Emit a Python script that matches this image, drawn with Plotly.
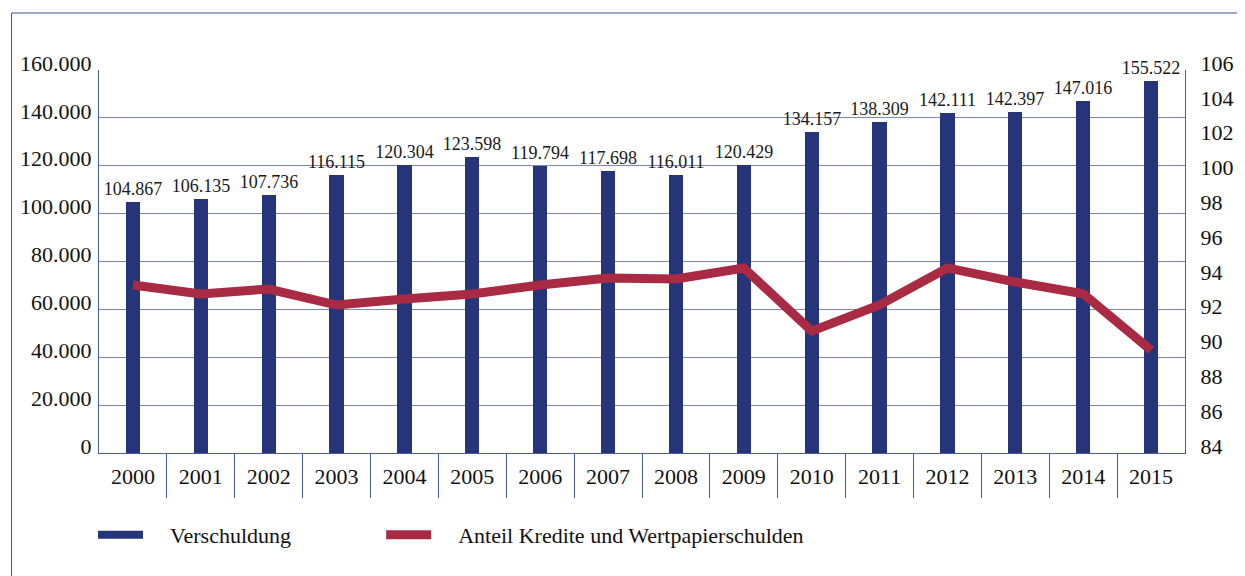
import plotly.graph_objects as go

years = ["2000", "2001", "2002", "2003", "2004", "2005", "2006", "2007",
         "2008", "2009", "2010", "2011", "2012", "2013", "2014", "2015"]
verschuldung = [104867, 106135, 107736, 116115, 120304, 123598, 119794, 117698,
                116011, 120429, 134157, 138309, 142111, 142397, 147016, 155522]
anteil = [93.65, 93.13, 93.42, 92.50, 92.85, 93.13, 93.65, 94.05,
          94.00, 94.63, 91.00, 92.50, 94.63, 93.82, 93.15, 89.90]

left_ticks = [0, 20000, 40000, 60000, 80000, 100000, 120000, 140000, 160000]
right_ticks = [84, 86, 88, 90, 92, 94, 96, 98, 100, 102, 104, 106]

NAVY = "#26357a"
RED = "#a82a43"
AXIS = "#4b5a9c"
GRID = "#7d88b8"
FONT = "Liberation Serif"
PAD = "\u2002\u2002"

idx = list(range(len(years)))

fig = go.Figure()
fig.add_trace(go.Bar(
    x=idx, y=verschuldung, width=0.21, marker=dict(color=NAVY, line=dict(width=0)),
    name="Verschuldung", showlegend=False,
    text=verschuldung, texttemplate="%{y:,.0f}", textposition="outside",
    constraintext="none",
    textfont=dict(family=FONT, size=18, color="#1a1a1a"), cliponaxis=False,
))
fig.add_trace(go.Scatter(
    x=[None], y=[None], mode="lines", line=dict(color=NAVY, width=8),
    name=PAD + "Verschuldung", showlegend=True, legend="legend",
))
fig.add_trace(go.Scatter(
    x=idx, y=anteil, mode="lines", line=dict(color=RED, width=9),
    name=PAD + "Anteil Kredite und Wertpapierschulden", yaxis="y2", legend="legend2",
))

W, H = 1237, 568
ML, MT, MR, MB = 90, 62, 54, 123
PW = W - ML - MR
PH = H - MT - MB


def px_x(x):
    return (x - ML) / PW


def px_y(y):
    return (H - MB - y) / PH


legend_common = dict(
    orientation="h", xanchor="left", yanchor="middle",
    itemwidth=45, font=dict(family=FONT, size=22, color="#111111"),
    bgcolor="rgba(0,0,0,0)",
)

fig.update_layout(
    width=W, height=H,
    margin=dict(l=ML, r=MR, t=MT, b=MB),
    paper_bgcolor="white", plot_bgcolor="white",
    separators=",.",
    font=dict(family=FONT, size=22, color="#111111"),
    bargap=0,
    xaxis=dict(
        range=[-0.5, len(years) - 0.5], tickmode="array", tickvals=idx, ticktext=years,
        ticks="", showgrid=False, zeroline=False, showline=True, linecolor=AXIS, linewidth=1,
        ticklabelstandoff=4,
        tickfont=dict(family=FONT, size=22, color="#111111"),
        minor=dict(tickmode="array", tickvals=[i + 0.5 for i in idx[:-1]],
                   ticks="outside", ticklen=44, tickcolor=AXIS, tickwidth=1, showgrid=False),
    ),
    yaxis=dict(
        range=[0, 160000], tickmode="array", tickvals=left_ticks, tickformat=",.0f",
        showgrid=True, gridcolor=GRID, gridwidth=1, zeroline=False,
        showline=True, linecolor=AXIS, linewidth=1, ticks="",
        ticklabelstandoff=2, ticklabelshift=-7,
        tickfont=dict(family=FONT, size=22, color="#111111"),
    ),
    yaxis2=dict(
        range=[84, 106], tickmode="array", tickvals=right_ticks, overlaying="y", side="right",
        showgrid=False, zeroline=False, showline=True, linecolor=AXIS, linewidth=1, ticks="",
        ticklabelstandoff=10, ticklabelshift=-7,
        tickfont=dict(family=FONT, size=22, color="#111111"),
    ),
    legend=dict(x=px_x(92 - 8), y=px_y(535 - 8), **legend_common),
    legend2=dict(x=px_x(382 - 8), y=px_y(535 - 8), **legend_common),
    shapes=[dict(type="rect", xref="paper", yref="paper",
                 x0=px_x(2), x1=px_x(1250), y0=px_y(580), y1=px_y(5),
                 line=dict(color="#3f4f98", width=1), fillcolor="rgba(0,0,0,0)", layer="below")],
)

fig.write_html("out.html")
